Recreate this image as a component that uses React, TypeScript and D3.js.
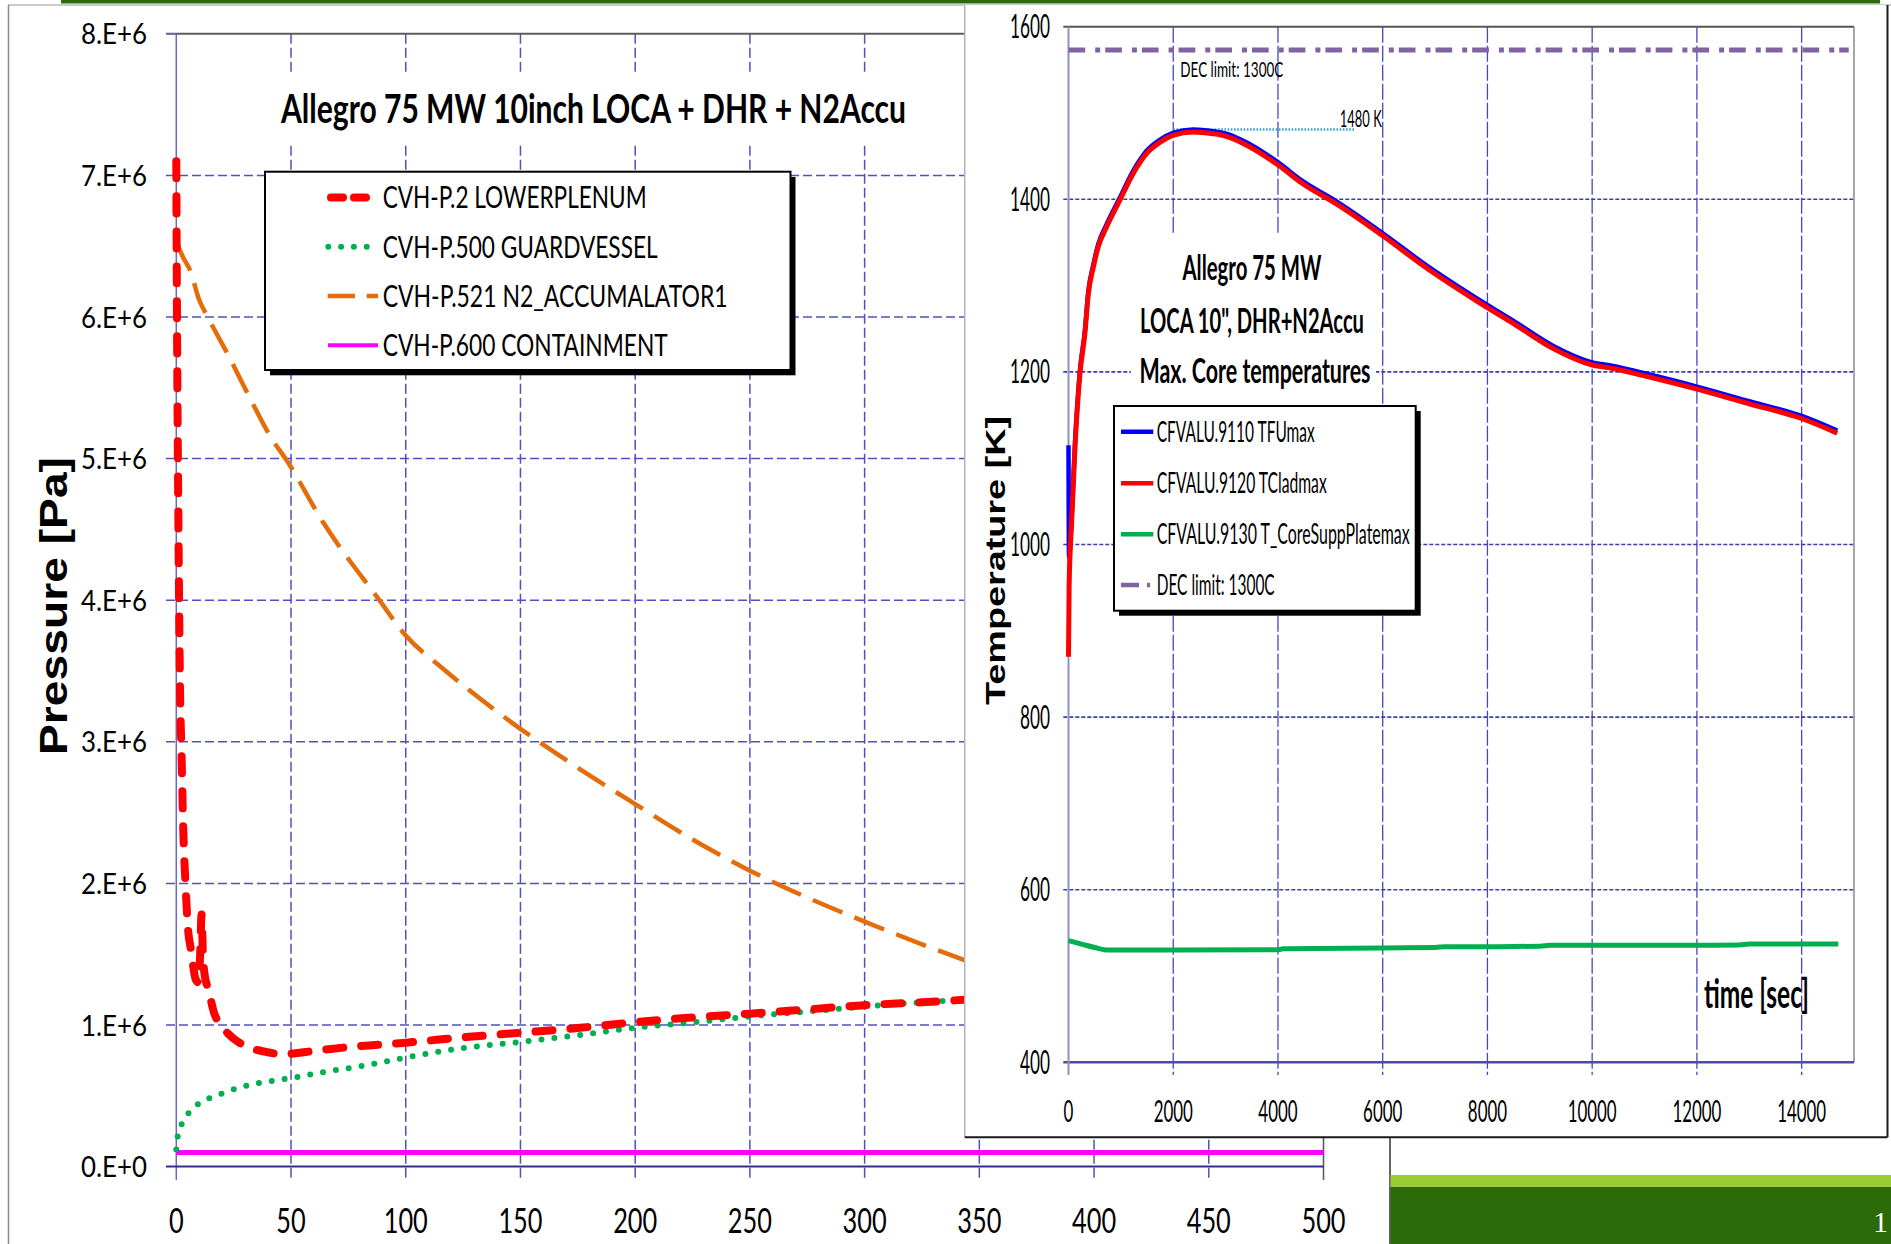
import React from 'react';
import * as d3 from 'd3';

// ---------- left chart: pressures (time in s, pressure in MPa = 1.E+6 Pa) ----------
const pressTimeTicks = [0, 50, 100, 150, 200, 250, 300, 350, 400, 450, 500];
const pressTicks = [0, 1, 2, 3, 4, 5, 6, 7, 8];
const pressTickLabels = ['0.E+0', '1.E+6', '2.E+6', '3.E+6', '4.E+6', '5.E+6', '6.E+6', '7.E+6', '8.E+6'];

const lowerPlenum = [
  [0, 7.1], [0.3, 6.0], [0.7, 5.0], [1.1, 4.2], [1.6, 3.4], [2.3, 2.9], [3, 2.4], [4, 2.0],
  [5, 1.7], [6.5, 1.52], [8.5, 1.32], [9.8, 1.3], [10.5, 1.55], [11, 1.78], [11.6, 1.5],
  [12.3, 1.36], [14, 1.25], [16.6, 1.08], [19.5, 1.0], [22.5, 0.94], [27, 0.88], [32, 0.84],
  [39, 0.81], [46, 0.795], [52, 0.8], [59, 0.815], [79, 0.85], [100, 0.875], [125, 0.913],
  [150, 0.945], [176, 0.98], [200, 1.02], [226, 1.055], [250, 1.08], [275, 1.11], [300, 1.14],
  [325, 1.16], [345, 1.18],
];
const guardVessel = [
  [0, 0.12], [0.5, 0.2], [1.2, 0.25], [3, 0.32], [6, 0.39], [9, 0.435], [14, 0.48], [20.5, 0.52],
  [28, 0.56], [36, 0.59], [50, 0.625], [65, 0.67], [79, 0.705], [100, 0.77], [125, 0.837],
  [150, 0.88], [176, 0.93], [200, 0.98], [226, 1.02], [250, 1.06], [275, 1.095], [300, 1.13],
  [325, 1.16], [345, 1.18],
];
const accumulator = [
  [0, 6.53], [3, 6.42], [6, 6.33], [10, 6.12], [13.7, 6.0], [23, 5.72], [32, 5.43], [42, 5.13],
  [48, 4.99], [64, 4.55], [88.5, 4.0], [100, 3.75], [116, 3.52], [136, 3.26], [145, 3.15],
  [170, 2.87], [200, 2.56], [225, 2.31], [250, 2.09], [275, 1.9], [300, 1.73], [325, 1.57],
  [345, 1.45],
];
const containment = [[0, 0.1], [500, 0.1]];

const pressNames = [
  'CVH-P.2 LOWERPLENUM',
  'CVH-P.500 GUARDVESSEL',
  'CVH-P.521 N2_ACCUMALATOR1',
  'CVH-P.600 CONTAINMENT',
];
const pressNameWidths = [264, 275, 345, 285];

// ---------- right chart: max core temperatures (time in s, T in K) ----------
const tempTimeTicks = [0, 2000, 4000, 6000, 8000, 10000, 12000, 14000];
const tempTicks = [400, 600, 800, 1000, 1200, 1400, 1600];

const tfuMax = [
  [0, 1115], [10, 985], [60, 1030], [124, 1116], [219, 1202], [314, 1248], [378, 1293],
  [473, 1324], [568, 1348], [727, 1371], [981, 1402], [1235, 1433], [1489, 1456], [1743, 1469],
  [1996, 1477], [2377, 1481], [2758, 1479], [3013, 1476], [3394, 1466], [3997, 1443],
  [4473, 1421], [5109, 1398], [5996, 1361], [6823, 1324], [7775, 1286], [8500, 1259],
  [9258, 1230], [10000, 1211], [10400, 1207], [10958, 1199], [12000, 1183], [13000, 1166],
  [14000, 1149], [14680, 1132],
];
const tcladMax = [
  [0, 870], [12, 952], [60, 1027], [124, 1113], [219, 1198], [314, 1245], [378, 1290],
  [473, 1321], [568, 1345], [727, 1368], [981, 1399], [1235, 1430], [1489, 1453], [1743, 1466],
  [1996, 1474], [2377, 1478], [2758, 1476], [3013, 1473], [3394, 1463], [3997, 1440],
  [4473, 1418], [5109, 1395], [5996, 1358], [6823, 1321], [7775, 1283], [8500, 1256],
  [9258, 1227], [10000, 1208], [10400, 1204], [10958, 1196], [12000, 1180], [13000, 1163],
  [14000, 1146], [14680, 1129],
];
const coreSuppPlate = [
  [0, 541], [250, 537], [500, 533], [766, 530], [2000, 530], [4000, 530.5], [4100, 531.5],
  [6000, 532.5], [7000, 533], [7200, 534], [8000, 534], [9000, 534.5], [9200, 535.5],
  [10000, 535.5], [12000, 535.5], [12800, 536], [13000, 537], [14700, 537],
];
const decLimit = [[0, 1573], [14900, 1573]];
const peakMarker = [[2000, 1481], [5470, 1481]];

const tempNames = [
  'CFVALU.9110 TFUmax',
  'CFVALU.9120 TCladmax',
  'CFVALU.9130 T_CoreSuppPlatemax',
  'DEC limit: 1300C',
];
const tempNameWidths = [158, 170, 253, 118];

// scales
const px = d3.scaleLinear().domain([0, 500]).range([176.3, 1323.5]);
const py = d3.scaleLinear().domain([0, 8]).range([1166.6, 33.8]);
const tx = d3.scaleLinear().domain([0, 15000]).range([1068.5, 1854]);
const ty = d3.scaleLinear().domain([400, 1600]).range([1062.3, 26.7]);

const pLine = d3.line<number[]>().x(d => px(d[0])).y(d => py(d[1])).curve(d3.curveMonotoneX);
const tLine = d3.line<number[]>().x(d => tx(d[0])).y(d => ty(d[1])).curve(d3.curveMonotoneX);

const Label = ({ x, y, w, size, anchor = 'start', bold = false, fill = '#000', family = 'Lato', children }: any) => (
  <text
    x={x}
    y={y}
    fontSize={size}
    fontFamily={family}
    fontWeight={bold ? 700 : 400}
    fill={fill}
    textAnchor={anchor}
    textLength={w}
    lengthAdjust="spacingAndGlyphs"
  >
    {children}
  </text>
);

const GRID = '#5050c4';

const PressureChart = () => {
  const top = py(8);
  const bottom = py(0);
  const legendY = [197.5, 246.7, 296, 345.2];
  return (
    <g>
      {/* gridlines */}
      {pressTimeTicks.slice(1, -1).map(t => (
        <line key={'vx' + t} x1={px(t)} x2={px(t)} y1={top} y2={1180}
          stroke={GRID} strokeWidth={1.5} strokeDasharray="10 4" />
      ))}
      {pressTicks.slice(1, -1).map(v => (
        <line key={'hy' + v} x1={166} x2={px(500)} y1={py(v)} y2={py(v)}
          stroke={GRID} strokeWidth={1.5} strokeDasharray="9 4" />
      ))}
      {/* frame */}
      <line x1={166} x2={px(500)} y1={top} y2={top} stroke="#5c5c5c" strokeWidth={2} />
      <line x1={px(500)} x2={px(500)} y1={top} y2={1180} stroke="#555" strokeWidth={1.5} />
      <line x1={px(0)} x2={px(0)} y1={top} y2={1180} stroke="#6a6ac0" strokeWidth={1.5} />
      <line x1={166} x2={px(500)} y1={bottom} y2={bottom} stroke="#2f2f8f" strokeWidth={2} />
      <line x1={166} x2={px(0)} y1={top} y2={top} stroke="#6a6ac0" strokeWidth={1.5} />

      {/* tick labels */}
      {pressTicks.map((v, i) => (
        <Label key={'ly' + v} x={147} y={py(v) + 10.5} w={66} size={29} anchor="end">
          {pressTickLabels[i]}
        </Label>
      ))}
      {pressTimeTicks.map(t => (
        <Label key={'lx' + t} x={px(t)} y={1233} w={14.7 * String(t).length} size={35} anchor="middle">
          {String(t)}
        </Label>
      ))}
      <text transform="translate(67,606) rotate(-90)" textAnchor="middle" fontFamily="Liberation Sans, Arial"
        fontWeight={700} fontSize={39} textLength={298} lengthAdjust="spacingAndGlyphs">Pressure [Pa]</text>

      {/* title */}
      <rect x={270} y={73} width={645} height={69} fill="#fff" />
      <Label x={281} y={123.3} w={625} size={40} bold>Allegro 75 MW 10inch LOCA + DHR + N2Accu</Label>

      {/* series */}
      <path d={pLine(containment)!} fill="none" stroke="#ff00ff" strokeWidth={5} />
      <path d={pLine(accumulator)!} fill="none" stroke="#e46c0a" strokeWidth={4.5} strokeDasharray="32 13" />
      <path d={pLine(guardVessel)!} fill="none" stroke="#00b050" strokeWidth={6}
        strokeDasharray="0 13" strokeLinecap="round" />
      <path d={pLine(lowerPlenum)!} fill="none" stroke="#ff0000" strokeWidth={8}
        strokeDasharray="17 18" strokeLinecap="round" />

      {/* legend */}
      <rect x={270} y={177} width={525.5} height={198.3} fill="#000" />
      <rect x={265} y={171.7} width={525.5} height={198.3} fill="#fff" stroke="#000" strokeWidth={2} />
      <line x1={331} x2={366} y1={legendY[0]} y2={legendY[0]} stroke="#ff0000" strokeWidth={8}
        strokeDasharray="12 11" strokeLinecap="round" />
      <line x1={328.3} x2={367.5} y1={legendY[1]} y2={legendY[1]} stroke="#00b050" strokeWidth={6}
        strokeDasharray="0 12.8" strokeLinecap="round" />
      <line x1={327.7} x2={378} y1={legendY[2]} y2={legendY[2]} stroke="#e46c0a" strokeWidth={4.5}
        strokeDasharray="27.3 11.7" />
      <line x1={328} x2={378} y1={legendY[3]} y2={legendY[3]} stroke="#ff00ff" strokeWidth={4} />
      {pressNames.map((n, i) => (
        <Label key={n} x={382.7} y={legendY[i] + 10.8} w={pressNameWidths[i]} size={30}>{n}</Label>
      ))}
    </g>
  );
};

const TemperatureChart = () => {
  const top = ty(1600);
  const bottom = ty(400);
  const right = tx(15000);
  const legendY = [431.7, 483.3, 534.3, 585];
  return (
    <g>
      <rect x={964.75} y={5} width={922.75} height={1132.3} fill="#fff" />
      <line x1={964.75} x2={964.75} y1={5} y2={1137.3} stroke="#b4b4b4" strokeWidth={1.5} />
      <line x1={964.75} x2={1887.5} y1={1137.3} y2={1137.3} stroke="#1a1a1a" strokeWidth={2} />
      <line x1={1887.5} x2={1887.5} y1={5} y2={1137.3} stroke="#1a1a1a" strokeWidth={2} />

      {/* gridlines */}
      {tempTimeTicks.slice(1).map(t => (
        <line key={'vx' + t} x1={tx(t)} x2={tx(t)} y1={top} y2={1075}
          stroke="#4646c4" strokeWidth={1.3} strokeDasharray="16 3" />
      ))}
      {tempTicks.slice(1, -1).map(v => (
        <line key={'hy' + v} x1={1063.3} x2={right} y1={ty(v)} y2={ty(v)}
          stroke="#3c3cb4" strokeWidth={1.6} strokeDasharray="4 2" />
      ))}
      <line x1={1063.3} x2={right} y1={top} y2={top} stroke="#555" strokeWidth={2} />
      <line x1={right} x2={right} y1={top} y2={bottom} stroke="#8a8a8a" strokeWidth={1.5} />
      <line x1={1063.3} x2={right} y1={bottom} y2={bottom} stroke="#4d4d99" strokeWidth={2.5} />
      <line x1={tx(0)} x2={tx(0)} y1={top} y2={1075} stroke="#9090c8" strokeWidth={2} />

      {/* tick labels */}
      {tempTicks.map(v => (
        <Label key={'ly' + v} x={1050} y={ty(v) + 11.5} w={10 * String(v).length} size={32} anchor="end">
          {String(v)}
        </Label>
      ))}
      {tempTimeTicks.map(t => (
        <Label key={'lx' + t} x={tx(t)} y={1121.7} w={9.8 * String(t).length} size={30} anchor="middle">
          {String(t)}
        </Label>
      ))}
      <text transform="translate(1005,560.5) scale(0.75,1) rotate(-90)" textAnchor="middle"
        fontFamily="Liberation Sans, Arial" fontWeight={700} fontSize={37.4} textLength={289}
        lengthAdjust="spacingAndGlyphs">Temperature [K]</text>
      <Label x={1756.5} y={1008} w={105} size={40} anchor="middle" bold>time [sec]</Label>

      {/* title */}
      <rect x={1131} y={235} width={245} height={170} fill="#fff" />
      <Label x={1252} y={280} w={139} size={35} anchor="middle" bold>Allegro 75 MW</Label>
      <Label x={1252} y={332.5} w={224} size={35} anchor="middle" bold>LOCA 10", DHR+N2Accu</Label>
      <Label x={1255} y={383} w={231} size={35} anchor="middle" bold>Max. Core temperatures</Label>

      {/* DEC limit + peak marker */}
      <path d={tLine(decLimit)!} fill="none" stroke="#8064a2" strokeWidth={5} strokeDasharray="16.7 10 5 5" />
      <Label x={tx(2135)} y={ty(1573) + 27} w={103} size={22}>DEC limit: 1300C</Label>
      <path d={tLine(peakMarker)!} fill="none" stroke="#3aa6c6" strokeWidth={2.5} strokeDasharray="1.6 1.6" />
      <Label x={tx(5180)} y={ty(1481) - 2.7} w={42} size={23}>1480 K</Label>

      {/* series */}
      <path d={tLine(coreSuppPlate)!} fill="none" stroke="#00b050" strokeWidth={5} />
      <path d={tLine(tfuMax)!} fill="none" stroke="#0000ff" strokeWidth={4.5} />
      <path d={tLine(tcladMax)!} fill="none" stroke="#ff0000" strokeWidth={5} />

      {/* legend */}
      <rect x={1119} y={411} width={301.7} height={204.7} fill="#000" />
      <rect x={1114} y={406} width={301.7} height={204.7} fill="#fff" stroke="#000" strokeWidth={2} />
      {['#0000ff', '#ff0000', '#00b050'].map((c, i) => (
        <line key={c} x1={1121} x2={1153.3} y1={legendY[i]} y2={legendY[i]} stroke={c} strokeWidth={4.5} />
      ))}
      <line x1={1121} x2={1151} y1={legendY[3]} y2={legendY[3]} stroke="#8064a2" strokeWidth={4.5}
        strokeDasharray="18 8 3 10" />
      {tempNames.map((n, i) => (
        <Label key={n} x={1156.7} y={legendY[i] + 10} w={tempNameWidths[i]} size={28}>{n}</Label>
      ))}
    </g>
  );
};

export default function App() {
  return (
    <div style={{ position: 'absolute', left: 0, top: 0 }}>
      <svg width={1891} height={1244} style={{ display: 'block' }}>
        <rect width={1891} height={1244} fill="#fff" />
        {/* slide frame */}
        <rect x={61} y={0} width={1819} height={3.5} fill="#2e6a0c" />
        <line x1={8} x2={1891} y1={5} y2={5} stroke="#b8b8b8" strokeWidth={1.5} />
        <line x1={8.5} x2={8.5} y1={5} y2={1244} stroke="#8c8c8c" strokeWidth={1.5} />

        <PressureChart />
        <TemperatureChart />

        {/* footer */}
        <line x1={1390} x2={1390} y1={1137.3} y2={1244} stroke="#333" strokeWidth={1.5} />
        <rect x={1390.5} y={1175} width={500.5} height={12} fill="#99cc33" />
        <rect x={1390.5} y={1187} width={500.5} height={57} fill="#2b6b0a" />
        <text x={1873} y={1232} fill="#fff" fontFamily="Liberation Serif, serif" fontSize={30}>1</text>
      </svg>
    </div>
  );
}
